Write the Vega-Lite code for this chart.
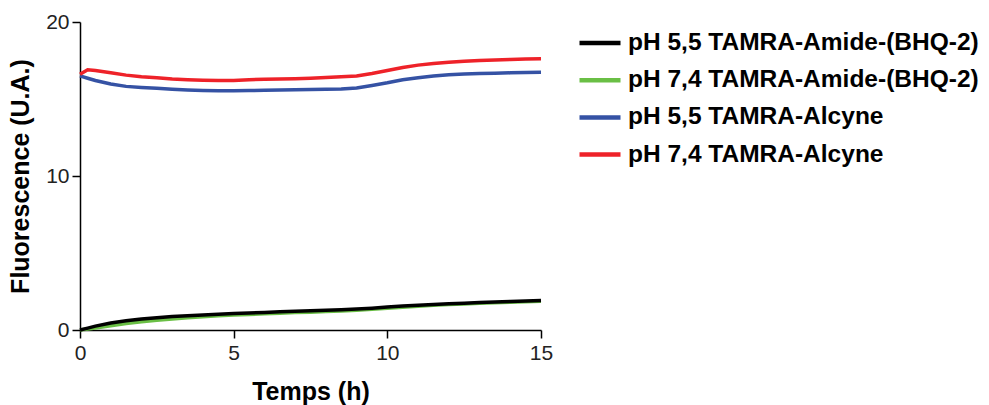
{
  "$schema": "https://vega.github.io/schema/vega-lite/v6.json",
  "autosize": {"type": "none"},
  "width": 461,
  "height": 308,
  "padding": {"left": 80, "top": 22, "right": 448, "bottom": 75},
  "background": "white",
  "config": {
    "view": {"stroke": null},
    "font": "Liberation Sans"
  },
  "data": {
    "values": [
      {"t": 0, "g": 0, "k": 0, "b": 16.5, "r": 16.6},
      {"t": 0.25, "g": 0.06, "k": 0.12, "b": 16.35, "r": 16.9},
      {"t": 0.5, "g": 0.13, "k": 0.25, "b": 16.2, "r": 16.85},
      {"t": 1, "g": 0.28, "k": 0.45, "b": 15.97, "r": 16.7},
      {"t": 1.5, "g": 0.42, "k": 0.6, "b": 15.82, "r": 16.55},
      {"t": 2, "g": 0.54, "k": 0.72, "b": 15.75, "r": 16.45},
      {"t": 2.5, "g": 0.64, "k": 0.8, "b": 15.7, "r": 16.38},
      {"t": 3, "g": 0.72, "k": 0.87, "b": 15.63, "r": 16.3},
      {"t": 3.5, "g": 0.8, "k": 0.93, "b": 15.58, "r": 16.25},
      {"t": 4, "g": 0.86, "k": 0.98, "b": 15.55, "r": 16.22},
      {"t": 4.5, "g": 0.92, "k": 1.03, "b": 15.53, "r": 16.2},
      {"t": 5, "g": 0.97, "k": 1.07, "b": 15.53, "r": 16.2},
      {"t": 5.5, "g": 1.01, "k": 1.1, "b": 15.55, "r": 16.25},
      {"t": 6, "g": 1.05, "k": 1.14, "b": 15.57, "r": 16.28},
      {"t": 6.5, "g": 1.09, "k": 1.18, "b": 15.58, "r": 16.3},
      {"t": 7, "g": 1.13, "k": 1.21, "b": 15.6, "r": 16.32},
      {"t": 7.5, "g": 1.16, "k": 1.25, "b": 15.62, "r": 16.35},
      {"t": 8, "g": 1.2, "k": 1.28, "b": 15.63, "r": 16.4},
      {"t": 8.5, "g": 1.24, "k": 1.32, "b": 15.65, "r": 16.45},
      {"t": 9, "g": 1.28, "k": 1.36, "b": 15.72, "r": 16.5},
      {"t": 9.5, "g": 1.34, "k": 1.42, "b": 15.88, "r": 16.65},
      {"t": 10, "g": 1.41, "k": 1.5, "b": 16.05, "r": 16.85},
      {"t": 10.5, "g": 1.48, "k": 1.56, "b": 16.25, "r": 17.05},
      {"t": 11, "g": 1.54, "k": 1.61, "b": 16.38, "r": 17.2},
      {"t": 11.5, "g": 1.6, "k": 1.66, "b": 16.5, "r": 17.3},
      {"t": 12, "g": 1.65, "k": 1.7, "b": 16.58, "r": 17.38},
      {"t": 12.5, "g": 1.69, "k": 1.74, "b": 16.62, "r": 17.45},
      {"t": 13, "g": 1.73, "k": 1.78, "b": 16.65, "r": 17.5},
      {"t": 13.5, "g": 1.77, "k": 1.82, "b": 16.67, "r": 17.53},
      {"t": 14, "g": 1.8, "k": 1.85, "b": 16.7, "r": 17.57},
      {"t": 14.5, "g": 1.83, "k": 1.88, "b": 16.72, "r": 17.6},
      {"t": 15, "g": 1.86, "k": 1.92, "b": 16.73, "r": 17.62}
    ]
  },
  "transform": [
    {"fold": ["g", "k", "b", "r"], "as": ["s", "v"]}
  ],
  "mark": {"type": "line", "strokeWidth": 3.5, "clip": false},
  "encoding": {
    "x": {
      "field": "t", "type": "quantitative",
      "scale": {"domain": [0, 15], "nice": false},
      "axis": {
        "values": [0, 5, 10, 15],
        "title": "Temps (h)",
        "titleFont": "Liberation Sans", "titleFontSize": 25, "titleFontWeight": "bold", "titleColor": "black",
        "titlePadding": 16,
        "labelFont": "Liberation Sans", "labelFontSize": 21, "labelColor": "#222", "labelPadding": 4,
        "domainColor": "black", "domainWidth": 1.5,
        "tickColor": "black", "tickWidth": 1.5, "tickSize": 8,
        "grid": false, "labelFlush": false
      }
    },
    "y": {
      "field": "v", "type": "quantitative",
      "scale": {"domain": [0, 20], "nice": false},
      "axis": {
        "values": [0, 10, 20],
        "title": "Fluorescence (U.A.)",
        "titleFont": "Liberation Sans", "titleFontSize": 25, "titleFontWeight": "bold", "titleColor": "black",
        "titlePadding": 12,
        "labelFont": "Liberation Sans", "labelFontSize": 21, "labelColor": "#222", "labelPadding": 3,
        "domainColor": "black", "domainWidth": 1.5,
        "tickColor": "black", "tickWidth": 1.5, "tickSize": 8,
        "grid": false, "labelFlush": false
      }
    },
    "color": {
      "field": "s", "type": "nominal",
      "scale": {
        "domain": ["k", "g", "b", "r"],
        "range": ["#000000", "#6abf45", "#3552a4", "#ee2229"]
      },
      "legend": {
        "title": null,
        "orient": "none",
        "legendX": 497,
        "legendY": -2,
        "labelExpr": "{'k': 'pH 5,5 TAMRA-Amide-(BHQ-2)', 'g': 'pH 7,4 TAMRA-Amide-(BHQ-2)', 'b': 'pH 5,5 TAMRA-Alcyne', 'r': 'pH 7,4 TAMRA-Alcyne'}[datum.value]",
        "labelFont": "Liberation Sans", "labelFontSize": 24.5, "labelFontWeight": "bold", "labelColor": "black",
        "labelOffset": 5, "labelLimit": 600,
        "symbolType": "stroke", "symbolSize": 1681, "symbolStrokeWidth": 4.5,
        "rowPadding": 2.2
      }
    },
    "order": {"field": "s", "sort": "ascending"}
  }
}
